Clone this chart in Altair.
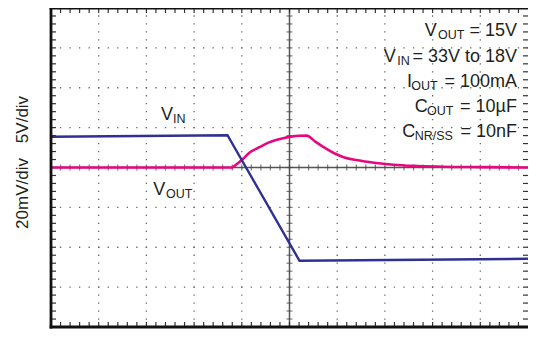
import altair as alt
import pandas as pd
import numpy as np

# ---- data (x: time in divisions 0..10, y: vertical divisions -4..4) ----
vin_t = [0.0, 3.70, 5.21, 10.0]
vin_v = [0.77, 0.81, -2.34, -2.29]

vout_t = [0.0, 3.79, 3.89, 4.03, 4.16, 4.37, 4.57, 4.85, 5.06, 5.20, 5.36,
          5.54, 5.74, 5.95, 6.15, 6.43, 6.77, 7.18, 7.59, 8.20, 9.00, 10.0]
vout_v = [0.0, 0.0, 0.08, 0.22, 0.37, 0.51, 0.63, 0.73, 0.78, 0.795, 0.80,
          0.65, 0.49, 0.35, 0.25, 0.18, 0.12, 0.07, 0.04, 0.02, 0.01, 0.0]

# ---- texts ----
axis_labels = ["5V/div", "20mV/div"]
cond_main = ["V", "V", "I", "C", "C"]
cond_sub = ["OUT", "IN", "OUT", "OUT", "NR/SS"]
cond_val = ["= 15V", "= 33V to 18V", "= 100mA", "= 10\u00b5F", "= 10nF"]
trace_main = ["V", "V"]
trace_sub = ["IN", "OUT"]

# ---- annotation positions (in divisions) ----
cond_y = [3.30, 2.64, 2.03, 1.40, 0.77]
cond_main_x = [7.834, 6.975, 7.463, 7.625, 7.365]
cond_sub_x = [8.113, 7.260, 7.553, 7.883, 7.625]
cond_val_x = 9.769
trace_y = [1.19, -0.68]
trace_main_x = [2.306, 2.145]
trace_sub_x = [2.558, 2.411]

W, H = 477, 319
FONT = "Liberation Sans"
TXT = "#231f20"
BLUE = "#2e3192"
PINK = "#e6087f"

xs = alt.Scale(domain=[0, 10], nice=False, zero=False)
ys = alt.Scale(domain=[-4, 4], nice=False, zero=False)

def X(f):
    return alt.X(f, type="quantitative", scale=xs, axis=None)

def Y(f):
    return alt.Y(f, type="quantitative", scale=ys, axis=None)

one = pd.DataFrame({"k": [0]})

minor_t = [round(v, 3) for v in np.arange(0, 10.0001, 0.2)]
minor_v = [round(v, 3) for v in np.arange(-4, 4.0001, 0.2)]
inner_t = [v for v in minor_t if 0 < v < 10]
inner_v = [v for v in minor_v if -4 < v < 4]

gx = pd.DataFrame({"t": [1, 2, 3, 4, 6, 7, 8, 9]})
gy = pd.DataFrame({"v": [-3, -2, -1, 1, 2, 3]})
tdf = pd.DataFrame({"t": inner_t, "v": [0] * len(inner_t)})
vdf = pd.DataFrame({"v": inner_v, "t": [5] * len(inner_v)})

pv = H / 40.0   # vertical dot period (1/5 division)
ph = W / 50.0   # horizontal dot period

grid_v = alt.Chart(gx).mark_rule(color="#666", strokeWidth=1.3,
                                 strokeDash=[1.3, pv - 1.3], strokeDashOffset=0.65).encode(x=X("t"))
grid_h = alt.Chart(gy).mark_rule(color="#666", strokeWidth=1.3,
                                 strokeDash=[1.3, ph - 1.3], strokeDashOffset=0.65).encode(y=Y("v"))
center_h = alt.Chart(pd.DataFrame({"v": [0]})).mark_rule(color="#555", strokeWidth=1.5).encode(y=Y("v"))
center_v = alt.Chart(pd.DataFrame({"t": [5]})).mark_rule(color="#555", strokeWidth=1.5).encode(x=X("t"))
cticks_h = alt.Chart(tdf).mark_tick(orient="vertical", size=6, thickness=1.2, color="#444").encode(x=X("t"), y=Y("v"))
cticks_v = alt.Chart(vdf).mark_tick(orient="horizontal", size=6, thickness=1.2, color="#444").encode(x=X("t"), y=Y("v"))

tk = dict(color="#333", strokeWidth=1.2)
bt_left = alt.Chart(pd.DataFrame({"v": inner_v})).mark_rule(**tk).encode(
    y=Y("v"), x=alt.value(0), x2=alt.value(5))
bt_right = alt.Chart(pd.DataFrame({"v": inner_v})).mark_rule(**tk).encode(
    y=Y("v"), x=alt.value(W - 5), x2=alt.value(W))
bt_top = alt.Chart(pd.DataFrame({"t": inner_t})).mark_rule(**tk).encode(
    x=X("t"), y=alt.value(0), y2=alt.value(5))
bt_bot = alt.Chart(pd.DataFrame({"t": inner_t})).mark_rule(**tk).encode(
    x=X("t"), y=alt.value(H - 5), y2=alt.value(H))

bw = dict(color="#111", strokeWidth=2.8)
b_left = alt.Chart(one).mark_rule(**bw).encode(x=alt.value(0), y=alt.value(-1.4), y2=alt.value(H + 1.4))
b_top = alt.Chart(one).mark_rule(**bw).encode(y=alt.value(0), x=alt.value(-1.4), x2=alt.value(W))
b_bot = alt.Chart(one).mark_rule(**bw).encode(y=alt.value(H), x=alt.value(-1.4), x2=alt.value(W))

vin = alt.Chart(pd.DataFrame({"t": vin_t, "v": vin_v})).mark_line(
    color=BLUE, strokeWidth=2.4, strokeJoin="miter").encode(x=X("t"), y=Y("v"))
vout = alt.Chart(pd.DataFrame({"t": vout_t, "v": vout_v})).mark_line(
    color=PINK, strokeWidth=2.6, interpolate="monotone").encode(x=X("t"), y=Y("v"))

main_df = pd.DataFrame({"t": cond_main_x + trace_main_x, "v": cond_y + trace_y,
                        "s": cond_main + trace_main})
sub_df = pd.DataFrame({"t": cond_sub_x + trace_sub_x, "v": cond_y + trace_y,
                       "s": cond_sub + trace_sub})
val_df = pd.DataFrame({"t": [cond_val_x] * len(cond_val), "v": cond_y, "s": cond_val})

t_main = alt.Chart(main_df).mark_text(align="left", baseline="alphabetic", font=FONT,
                                      fontSize=18, color=TXT).encode(x=X("t"), y=Y("v"), text="s:N")
t_sub = alt.Chart(sub_df).mark_text(align="left", baseline="alphabetic", font=FONT,
                                    fontSize=12.5, dy=3, color=TXT).encode(x=X("t"), y=Y("v"), text="s:N")
t_val = alt.Chart(val_df).mark_text(align="right", baseline="alphabetic", font=FONT,
                                    fontSize=18, color=TXT).encode(x=X("t"), y=Y("v"), text="s:N")

# axis-side labels: offsets from the plot centre in pixels
ax_df = pd.DataFrame({"s": axis_labels, "py": [H / 2 - 48, H / 2 + 26]})
t_axis = alt.Chart(ax_df).mark_text(angle=270, align="center", baseline="alphabetic", font=FONT,
                                    fontSize=17, color=TXT).encode(
    x=alt.value(-23), y=alt.Y("py:Q", scale=None, axis=None), text="s:N")

chart = alt.layer(
    grid_v, grid_h, center_h, center_v, cticks_h, cticks_v,
    bt_left, bt_right, bt_top, bt_bot,
    vout, vin,
    t_main, t_sub, t_val, t_axis,
    b_left, b_top, b_bot,
).properties(
    width=W, height=H,
    padding={"left": 43, "top": 0, "right": 0, "bottom": 2},
    autosize=alt.AutoSizeParams(type="none"),
).configure_view(stroke=None).configure(background="white")

chart.save("out.html", embed_options={"renderer": "svg", "actions": False})
